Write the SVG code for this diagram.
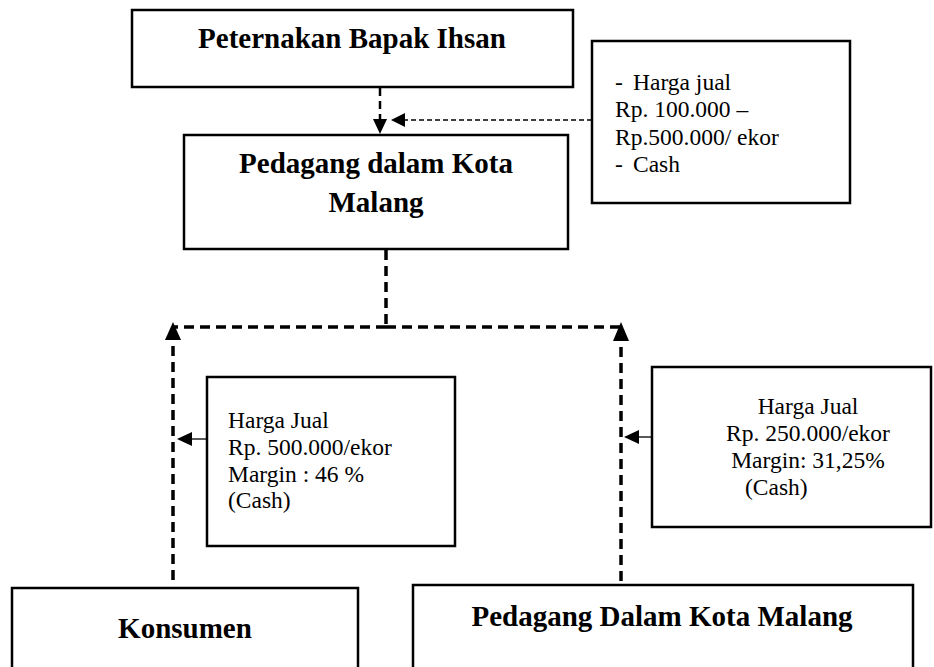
<svg xmlns="http://www.w3.org/2000/svg" width="934" height="667" viewBox="0 0 934 667">
<style>
.box{fill:#fff;stroke:#000;stroke-width:2.5}
.tb{font-family:"Liberation Serif","Times New Roman",serif;font-weight:bold;font-size:29px;fill:#000}
.tr{font-family:"Liberation Serif","Times New Roman",serif;font-size:23.5px;fill:#000}
.thick{fill:none;stroke:#000;stroke-width:3.5;stroke-dasharray:10 6}
.thin{fill:none;stroke:#000;stroke-width:1.3;stroke-dasharray:5 3}
.solid{fill:none;stroke:#000;stroke-width:1.3}
.mid{fill:none;stroke:#000;stroke-width:2.5;stroke-dasharray:8 5}
</style>
<rect width="934" height="667" fill="#fff"/>
<g id="connectors">
<path class="mid" d="M380,88 V120"/>
<polygon points="380,134 373,119 387,119"/>
<path class="thin" d="M592,120 H404"/>
<polygon points="391,120 405,113 405,127"/>
<path class="thick" d="M386,250 V327 M386,327 H173 M386,327 H621"/>
<polygon points="173,322 165,340 181,340"/>
<path class="thick" d="M173,346 V582"/>
<polygon points="621,322 613,341 629,341"/>
<path class="thick" d="M621,347 V584"/>
<path class="solid" d="M207,439 H190"/>
<polygon points="177,439 192,432 192,446"/>
<path class="solid" d="M652,437 H637"/>
<polygon points="624,437 639,430 639,444"/>
</g>
<g id="n_peternakan">
<rect class="box" x="132" y="10" width="441" height="77"/>
<text class="tb" x="352" y="48" text-anchor="middle">Peternakan Bapak Ihsan</text>
</g>
<g id="n_pedagang1">
<rect class="box" x="184" y="135" width="384" height="114"/>
<text class="tb" x="376" y="173" text-anchor="middle">Pedagang dalam Kota</text>
<text class="tb" x="376" y="212" text-anchor="middle">Malang</text>
</g>
<g id="n_info1">
<rect class="box" x="592" y="41" width="258" height="162"/>
<text class="tr" x="615" y="90">-</text>
<text class="tr" x="633" y="90">Harga jual</text>
<text class="tr" x="615" y="117">Rp. 100.000 –</text>
<text class="tr" x="615" y="145">Rp.500.000/ ekor</text>
<text class="tr" x="615" y="172">-</text>
<text class="tr" x="633" y="172">Cash</text>
</g>
<g id="n_info2">
<rect class="box" x="207" y="377" width="248" height="169"/>
<text class="tr" x="228" y="428">Harga Jual</text>
<text class="tr" x="228" y="455">Rp. 500.000/ekor</text>
<text class="tr" x="228" y="482">Margin : 46 %</text>
<text class="tr" x="228" y="508">(Cash)</text>
</g>
<g id="n_info3">
<rect class="box" x="652" y="367" width="279" height="160"/>
<text class="tr" x="808" y="414" text-anchor="middle">Harga Jual</text>
<text class="tr" x="808" y="441" text-anchor="middle">Rp. 250.000/ekor</text>
<text class="tr" x="808" y="468" text-anchor="middle">Margin: 31,25%</text>
<text class="tr" x="745" y="495">(Cash)</text>
</g>
<g id="n_konsumen">
<rect class="box" x="12" y="588" width="346" height="100"/>
<text class="tb" x="185" y="638" text-anchor="middle">Konsumen</text>
</g>
<g id="n_pedagang2">
<rect class="box" x="413" y="585" width="500" height="100"/>
<text class="tb" x="662" y="626" text-anchor="middle">Pedagang Dalam Kota Malang</text>
</g>
</svg>
